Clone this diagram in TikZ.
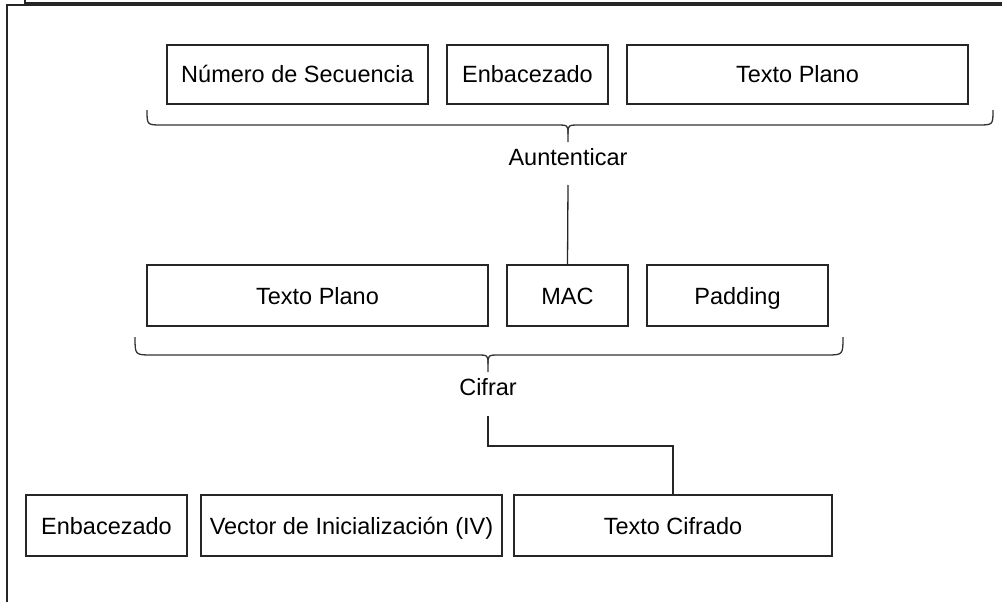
\documentclass[tikz,border=0pt]{standalone}
\usepackage{fontspec}
\setmainfont{Liberation Sans}
\begin{document}
\begin{tikzpicture}[x=1pt,y=-1pt,
  box/.style={draw=black!85, line width=1.3pt, anchor=north west, inner sep=0pt, outer sep=0pt, text height=17pt, text depth=0pt, font=\fontsize{23.5}{27}\selectfont},
  lbl/.style={inner sep=0pt, outer sep=0pt, font=\fontsize{23.5}{27}\selectfont},
  ln/.style={draw=black!85, line width=1.3pt},
  brace/.style={draw=black!80, line width=1.3pt}]
\useasboundingbox (0,0) rectangle (1002,602);
% frame
\draw[ln] (7,602) -- (7,5) -- (1002,5);
\draw[ln] (25,0) -- (25,3) -- (1002,3);
% row 1
\node[box, minimum width=261pt, minimum height=59pt] (num) at (167,45) {Número de Secuencia};
\node[box, minimum width=161pt, minimum height=59pt] (enb1) at (447,45) {Enbacezado};
\node[box, minimum width=341pt, minimum height=59pt] (tp1) at (627,45) {Texto Plano};
% brace 1
\draw[brace] (147,110) .. controls (147,125) .. (162,125) -- (556,125) .. controls (568,125) .. (568,134) -- (568,142);
\draw[brace] (568,134) .. controls (568,125) .. (580,125) -- (978,125) .. controls (993,125) .. (993,110);
\node[lbl, minimum height=56pt] (aut) at (568,157) {Auntenticar};
% row 2
\node[box, minimum width=341pt, minimum height=61pt] (tp2) at (147,265) {Texto Plano};
\node[box, minimum width=121pt, minimum height=61pt] (mac) at (507,265) {MAC};
\node[box, minimum width=181pt, minimum height=61pt] (pad) at (647,265) {Padding};
\draw[ln] (aut.south) -- (mac.north);
% brace 2
\draw[brace] (135,337) .. controls (135,355) .. (152,355) -- (476,355) .. controls (488,355) .. (488,364) -- (488,372);
\draw[brace] (488,364) .. controls (488,355) .. (500,355) -- (826,355) .. controls (843,355) .. (843,337);
\node[lbl, minimum height=58pt] (cif) at (488,387) {Cifrar};
% row 3
\node[box, minimum width=161pt, minimum height=61pt] (enb3) at (26,495) {Enbacezado};
\node[box, minimum width=301pt, minimum height=61pt] (iv) at (201,495) {Vector de Inicialización (IV)};
\node[box, minimum width=318pt, minimum height=61pt] (tc) at (514,495) {Texto Cifrado};
\draw[ln] (cif.south) -- (cif.south |- 0,446) -| (tc.north);
\end{tikzpicture}
\end{document}
